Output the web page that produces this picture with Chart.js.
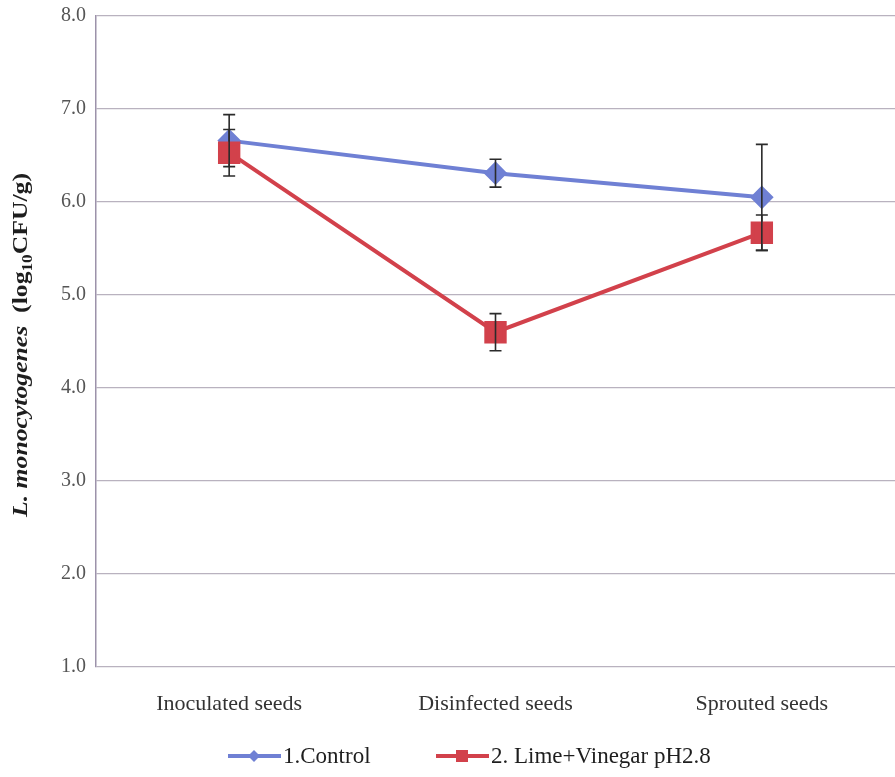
<!DOCTYPE html>
<html>
<head>
<meta charset="utf-8">
<script src="https://cdn.jsdelivr.net/npm/chart.js@4"></script>
<style>
  html, body { margin: 0; padding: 0; background: #fff; }
  #wrap { width: 895px; height: 777px; }
</style>
</head>
<body>
<div id="wrap"><canvas id="Chart" width="895" height="777"></canvas></div>
<script>
// chart data
const categories = ['Inoculated seeds', 'Disinfected seeds', 'Sprouted seeds'];
const seriesNames = ['1.Control', '2. Lime+Vinegar pH2.8'];
const controlValues = [6.66, 6.31, 6.05];
const controlErrors = [0.28, 0.15, 0.57];
const limeValues = [6.53, 4.60, 5.67];
const limeErrors = [0.25, 0.20, 0.19];
const yTicks = [1, 2, 3, 4, 5, 6, 7, 8];

const BLUE = '#6f80d4';
const RED = '#d2414b';
const SERIF = '"Liberation Serif", "DejaVu Serif", serif';

const canvas = document.getElementById('Chart');
const ctx = canvas.getContext('2d');

// error bars, drawn with each series
const errorBars = {
  id: 'errorBars',
  afterDatasetDraw(chart, args) {
    const ds = chart.data.datasets[args.index];
    const errs = ds.errors;
    if (!errs) return;
    const y = chart.scales.y;
    const c = chart.ctx;
    c.save();
    c.strokeStyle = '#2b2b2b';
    c.lineWidth = 1.6;
    args.meta.data.forEach((pt, i) => {
      const v = ds.data[i];
      const top = y.getPixelForValue(v + errs[i]);
      const bot = y.getPixelForValue(v - errs[i]);
      c.beginPath();
      c.moveTo(pt.x, top); c.lineTo(pt.x, bot);
      c.moveTo(pt.x - 6, top); c.lineTo(pt.x + 6, top);
      c.moveTo(pt.x - 6, bot); c.lineTo(pt.x + 6, bot);
      c.stroke();
    });
    c.restore();
  }
};

// axis title with subscript + legend with line and marker
const decorations = {
  id: 'decorations',
  afterDraw(chart) {
    const c = chart.ctx;
    c.save();
    // y title
    const parts = [
      { t: 'L. monocytogenes', f: 'italic bold 21px ' + SERIF, dy: 0 },
      { t: '  (log', f: 'bold 21px ' + SERIF, dy: 0 },
      { t: '10', f: 'bold 14px ' + SERIF, dy: 5 },
      { t: 'CFU/g)', f: 'bold 21px ' + SERIF, dy: 0 }
    ];
    let total = 0;
    parts.forEach(p => { c.font = p.f; p.w = c.measureText(p.t).width; total += p.w; });
    const stretch = 344 / total;
    c.translate(27, 345);
    c.rotate(-Math.PI / 2);
    c.scale(stretch, 1);
    c.fillStyle = '#1e1e1e';
    c.textBaseline = 'alphabetic';
    let x = -total / 2;
    parts.forEach(p => { c.font = p.f; c.fillText(p.t, x, p.dy); x += p.w; });
    c.setTransform(1, 0, 0, 1, 0, 0);

    // legend
    const ly = 756;
    const items = [
      { x: 228, color: BLUE, style: 'diamond', label: seriesNames[0] },
      { x: 436, color: RED, style: 'square', label: seriesNames[1] }
    ];
    items.forEach(it => {
      c.strokeStyle = it.color;
      c.lineWidth = 4;
      c.beginPath(); c.moveTo(it.x, ly); c.lineTo(it.x + 53, ly); c.stroke();
      c.fillStyle = it.color;
      const mx = it.x + 26;
      c.beginPath();
      if (it.style === 'diamond') {
        c.moveTo(mx, ly - 6); c.lineTo(mx + 6, ly); c.lineTo(mx, ly + 6); c.lineTo(mx - 6, ly);
      } else {
        c.rect(mx - 6, ly - 6, 12, 12);
      }
      c.closePath(); c.fill();
      c.fillStyle = '#1e1e1e';
      c.font = '23px ' + SERIF;
      c.textBaseline = 'middle';
      c.fillText(it.label, it.x + 55, ly + 1);
    });
    c.restore();
  }
};

const myChart = new Chart(ctx, {
  type: 'line',
  data: {
    labels: categories,
    datasets: [{
      label: seriesNames[0],
      data: controlValues,
      errors: controlErrors,
      borderColor: BLUE,
      backgroundColor: BLUE,
      borderWidth: 4,
      pointStyle: 'rectRot',
      pointRadius: 9,
      pointHoverRadius: 9,
      order: 1
    }, {
      label: seriesNames[1],
      data: limeValues,
      errors: limeErrors,
      borderColor: RED,
      backgroundColor: RED,
      borderWidth: 4,
      pointStyle: 'rect',
      pointRadius: 13,
      pointHoverRadius: 13,
      order: 0
    }]
  },
  options: {
    responsive: false,
    animation: false,
    layout: { autoPadding: false, padding: { top: 16, right: 0, left: 0, bottom: 0 } },
    plugins: {
      legend: { display: false },
      tooltip: { enabled: false }
    },
    scales: {
      x: {
        offset: true,
        grid: { display: false, drawTicks: false },
        border: { display: false },
        ticks: {
          color: '#333',
          font: { family: SERIF, size: 22 },
          padding: 24,
          maxRotation: 0
        },
        afterFit(scale) {
          scale.height = 110;
          scale.paddingLeft = 0;
          scale.paddingRight = 0;
        }
      },
      y: {
        min: 1,
        max: 8,
        afterBuildTicks(scale) { scale.ticks = yTicks.map(v => ({ value: v })); },
        grid: { color: '#b9b2bf', lineWidth: 1.2, drawTicks: false },
        border: { color: '#9c92aa', width: 1.5 },
        ticks: {
          color: '#555',
          font: { family: SERIF, size: 20 },
          padding: 10,
          callback: v => v.toFixed(1)
        },
        afterFit(scale) {
          scale.width = 96;
          scale.paddingTop = 0;
          scale.paddingBottom = 0;
        }
      }
    }
  },
  plugins: [errorBars, decorations]
});
</script>
</body>
</html>
